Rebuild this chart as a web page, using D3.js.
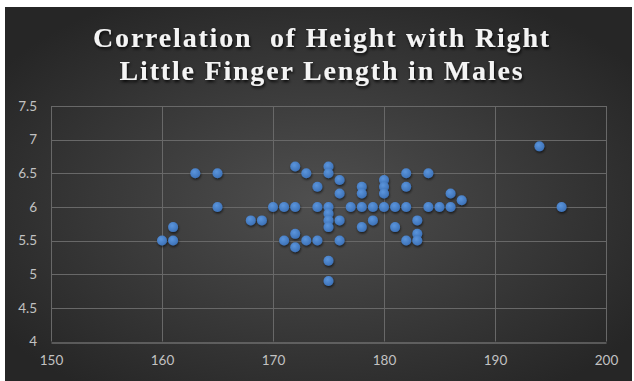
<!DOCTYPE html>
<html>
<head>
<meta charset="utf-8">
<script src="https://cdn.jsdelivr.net/npm/d3@7/dist/d3.min.js"></script>
<style>
  html, body { margin: 0; padding: 0; background: #ffffff; }
  svg { display: block; }
</style>
</head>
<body>
<svg id="chart" width="634" height="381"></svg>
<script>
// Height (cm) against right little finger length (cm), males
const heights = [160,161,161,163,165,165,168,169,170,171,171,172,172,172,172,173,173,174,174,174,
  175,175,175,175,175,175,175,175,176,176,176,176,177,178,178,178,178,179,179,180,180,180,180,
  181,181,182,182,182,182,183,183,183,184,184,185,186,186,187,194,196];
const fingerLengths = [5.5,5.5,5.7,6.5,6.5,6.0,5.8,5.8,6.0,6.0,5.5,6.0,6.6,5.6,5.4,6.5,5.5,6.3,6.0,5.5,
  6.6,6.5,6.0,5.9,5.8,5.7,5.2,4.9,6.4,6.2,5.8,5.5,6.0,6.3,6.2,6.0,5.7,6.0,5.8,6.4,6.3,6.2,6.0,
  6.0,5.7,6.5,6.3,6.0,5.5,5.8,5.6,5.5,6.5,6.0,6.0,6.2,6.0,6.1,6.9,6.0];
const xTicks = [150,160,170,180,190,200];
const yTicks = [4,4.5,5,5.5,6,6.5,7,7.5];
const titleLines = ["Correlation  of Height with Right", "Little Finger Length in Males"];

const points = heights.map((h, i) => ({ x: h, y: fingerLengths[i] }));

const svg = d3.select("#chart");
const defs = svg.append("defs");

const bg = defs.append("radialGradient").attr("id", "bg")
  .attr("cx", "50%").attr("cy", "52%").attr("r", "62%");
bg.append("stop").attr("offset", "0%").attr("stop-color", "#4f4f4f");
bg.append("stop").attr("offset", "100%").attr("stop-color", "#262626");

const dot = defs.append("radialGradient").attr("id", "dot")
  .attr("cx", "40%").attr("cy", "35%").attr("r", "65%");
dot.append("stop").attr("offset", "0%").attr("stop-color", "#5b95dc");
dot.append("stop").attr("offset", "100%").attr("stop-color", "#3d72b8");

const shadow = defs.append("filter").attr("id", "shadow")
  .attr("x", "-50%").attr("y", "-50%").attr("width", "200%").attr("height", "200%");
shadow.append("feDropShadow").attr("dx", 0.6).attr("dy", 1.6).attr("stdDeviation", 1.2)
  .attr("flood-color", "#000").attr("flood-opacity", 0.6);

const tshadow = defs.append("filter").attr("id", "tshadow")
  .attr("x", "-10%").attr("y", "-30%").attr("width", "120%").attr("height", "160%");
tshadow.append("feDropShadow").attr("dx", 1).attr("dy", 2).attr("stdDeviation", 1.5)
  .attr("flood-color", "#000").attr("flood-opacity", 0.85);

// Chart area
svg.append("rect").attr("x", 5).attr("y", 7).attr("width", 627).attr("height", 374)
  .attr("fill", "url(#bg)");

const margin = { left: 51, right: 606, top: 106, bottom: 341.5 };
const x = d3.scaleLinear().domain([150, 200]).range([margin.left, margin.right]);
const y = d3.scaleLinear().domain([4, 7.5]).range([margin.bottom, margin.top]);

// Gridlines
const grid = svg.append("g").attr("stroke", "#686868").attr("stroke-width", 1);
grid.selectAll("line.h").data(yTicks.slice(1)).join("line")
  .attr("x1", margin.left).attr("x2", margin.right)
  .attr("y1", d => Math.round(y(d)) + 0.5).attr("y2", d => Math.round(y(d)) + 0.5);
grid.selectAll("line.v").data(xTicks).join("line")
  .attr("y1", margin.top).attr("y2", margin.bottom)
  .attr("x1", d => Math.round(x(d)) + 0.5).attr("x2", d => Math.round(x(d)) + 0.5);

// Axes
const xAxis = svg.append("g")
  .attr("transform", `translate(0,${Math.round(y(4)) + 0.5})`)
  .call(d3.axisBottom(x).tickValues(xTicks).tickSize(0).tickPadding(13).tickFormat(d3.format("d")));
xAxis.select(".domain").attr("stroke", "#8a8a8a");

const yAxis = svg.append("g")
  .attr("transform", `translate(${margin.left - 14},0)`)
  .call(d3.axisLeft(y).tickValues(yTicks).tickSize(0).tickPadding(0).tickFormat(d => String(d)));
yAxis.select(".domain").remove();

svg.selectAll(".tick text")
  .attr("fill", "#c2c2c2")
  .style("font-family", "Lato, 'Open Sans', sans-serif")
  .style("font-size", "13.5px");

// Points
svg.append("g").selectAll("circle").data(points).join("circle")
  .attr("cx", d => x(d.x)).attr("cy", d => y(d.y)).attr("r", 5)
  .attr("fill", "url(#dot)")
  .attr("filter", "url(#shadow)");

// Title
svg.append("g").attr("filter", "url(#tshadow)")
  .selectAll("text").data(titleLines).join("text")
  .attr("x", 322).attr("y", (d, i) => 47 + i * 33)
  .attr("text-anchor", "middle")
  .attr("fill", "#f4f4f4")
  .style("font-family", "'Liberation Serif', serif")
  .style("font-weight", "bold")
  .style("font-size", "28px")
  .style("letter-spacing", "1.8px")
  .style("white-space", "pre")
  .text(d => d);
</script>
</body>
</html>
